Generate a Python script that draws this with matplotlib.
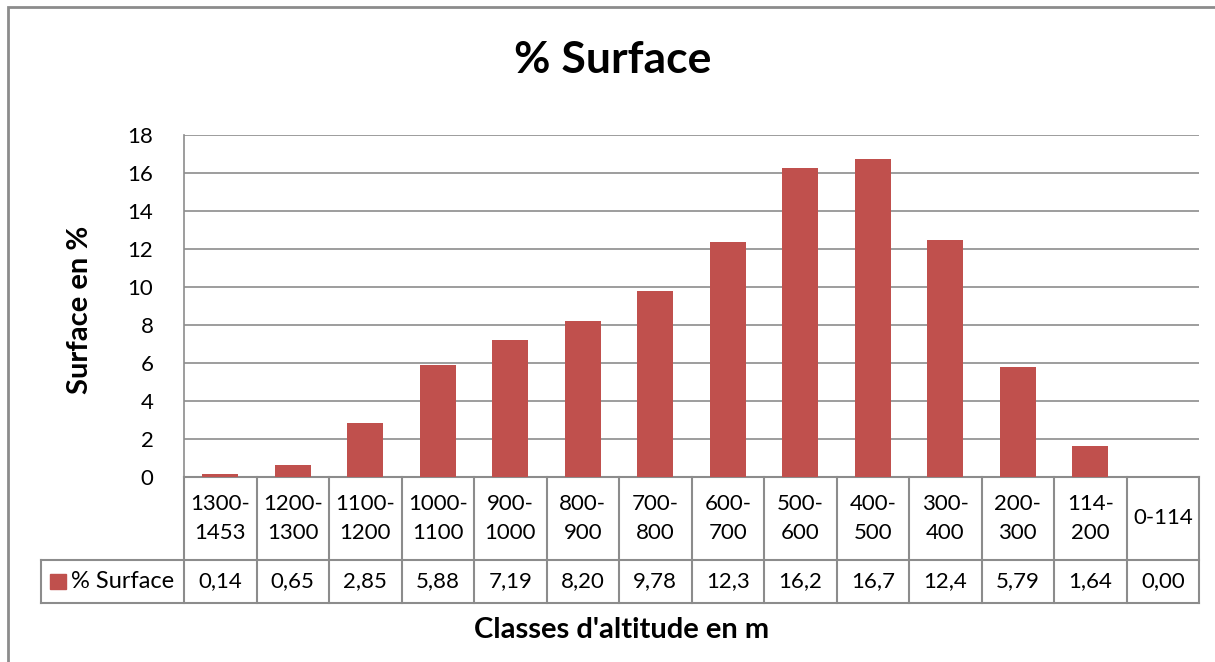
import matplotlib.pyplot as plt
from matplotlib.patches import Rectangle
from matplotlib.lines import Line2D
import matplotlib.transforms as mtransforms

plt.rcParams['font.family'] = ['Lato', 'DejaVu Sans']

# classes d'altitude (m) et surface en %
classes = ["1300-\n1453", "1200-\n1300", "1100-\n1200", "1000-\n1100", "900-\n1000",
           "800-\n900", "700-\n800", "600-\n700", "500-\n600", "400-\n500",
           "300-\n400", "200-\n300", "114-\n200", "0-114"]
surface = [0.14, 0.65, 2.85, 5.88, 7.19, 8.20, 9.78, 12.37, 16.26, 16.74, 12.47, 5.79, 1.64, 0.00]
table_labels = ["0,14", "0,65", "2,85", "5,88", "7,19", "8,20", "9,78",
                "12,3", "16,2", "16,7", "12,4", "5,79", "1,64", "0,00"]
yticks = [0, 2, 4, 6, 8, 10, 12, 14, 16, 18]

bar_color = "#C0504D"
grid_color = "#8C8C8C"
W, H = 1215, 662

fig = plt.figure(figsize=(W / 100, H / 100), dpi=100)
ax = fig.add_axes([184 / W, 1 - 477 / H, (1199 - 184) / W, (477 - 135) / H])

n = len(classes)
x = list(range(n))
ax.bar(x, surface, width=0.5, color=bar_color, zorder=3)
ax.set_xlim(-0.5, n - 0.5)
ax.set_ylim(0, 18)
ax.set_yticks(yticks)
ax.set_yticklabels([str(t) for t in yticks], fontsize=16)
ax.tick_params(axis='y', length=0, pad=22)
ax.set_xticks([])
ax.grid(axis='y', color=grid_color, linewidth=1.2, zorder=0)
for s in ['top', 'right', 'bottom']:
    ax.spines[s].set_visible(False)
ax.spines['left'].set_color(grid_color)
ax.spines['left'].set_linewidth(1.2)

fig.text(613 / W, 1 - 60 / H, "% Surface", ha='center', va='center',
         fontsize=32, fontweight='bold')
fig.text(80 / W, 1 - 310 / H, "Surface en %", ha='center', va='center',
         rotation=90, fontsize=21, fontweight='bold')
fig.text(622 / W, 1 - 630 / H, "Classes d'altitude en m", ha='center', va='center',
         fontsize=21, fontweight='bold')

# data table below the plot
trans = mtransforms.blended_transform_factory(ax.transData, ax.transAxes)
ah = 477 - 135
y_head = -(560 - 477) / ah
y_row = -(603 - 477) / ah
x_leg = -0.5 - (184 - 41) / ((1199 - 184) / n)
lkw = dict(color=grid_color, linewidth=1.5, transform=trans, clip_on=False)
for xb in [i - 0.5 for i in range(n + 1)]:
    ax.add_line(Line2D([xb, xb], [0, y_row], **lkw))
ax.add_line(Line2D([x_leg, n - 0.5], [y_head, y_head], **lkw))
ax.add_line(Line2D([x_leg, n - 0.5], [y_row, y_row], **lkw))
ax.add_line(Line2D([x_leg, x_leg], [y_head, y_row], **lkw))
ax.add_line(Line2D([-0.5, n - 0.5], [0, 0], **lkw))

for i in x:
    ax.text(i, y_head / 2, classes[i], transform=trans, ha='center', va='center',
            fontsize=16, linespacing=1.55)
    ax.text(i, (y_head + y_row) / 2, table_labels[i], transform=trans,
            ha='center', va='center', fontsize=16)

# legend key inside table
ax.add_patch(Rectangle((x_leg + 0.13, (y_head + y_row) / 2 - 0.022), 0.21, 0.044,
                       color=bar_color, transform=trans, clip_on=False))
ax.text(x_leg + 0.41, (y_head + y_row) / 2, "% Surface", transform=trans,
        ha='left', va='center', fontsize=17)

# outer chart border
fig.patches.append(Rectangle((8 / W, -0.1), 1.2, 1.1 - 7 / H, transform=fig.transFigure,
                             fill=False, edgecolor=grid_color, linewidth=2))

fig.savefig("out.png", dpi=100)
